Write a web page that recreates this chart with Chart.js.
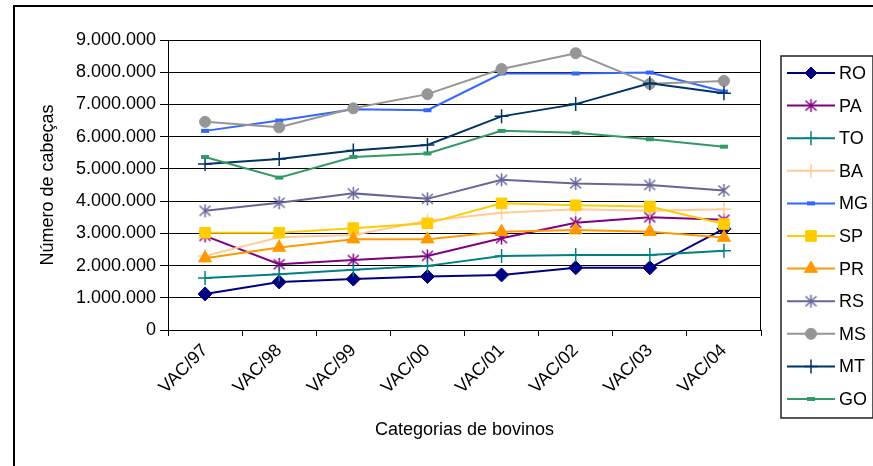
<!DOCTYPE html>
<html>
<head>
<meta charset="utf-8">
<script src="https://cdn.jsdelivr.net/npm/chart.js@4/dist/chart.umd.min.js"></script>
<style>
    body { margin: 0; background: #fff; }
    #wrap { width: 873px; height: 466px; }
</style>
</head>
<body>
<div id="wrap"><canvas id="chart" width="873" height="466"></canvas></div>
<script>
// categories and series (número de cabeças)
const categories = ['VAC/97', 'VAC/98', 'VAC/99', 'VAC/00', 'VAC/01', 'VAC/02', 'VAC/03', 'VAC/04'];
const seriesNames = ['RO', 'PA', 'TO', 'BA', 'MG', 'SP', 'PR', 'RS', 'MS', 'MT', 'GO'];

const RO = [1120000, 1490000, 1580000, 1660000, 1710000, 1930000, 1930000, 3140000];
const PA = [2920000, 2040000, 2170000, 2300000, 2850000, 3330000, 3500000, 3420000];
const TO = [1610000, 1730000, 1870000, 1990000, 2300000, 2330000, 2330000, 2460000];
const BA = [2300000, 2880000, 2950000, 3390000, 3640000, 3750000, 3700000, 3750000];
const MG = [6180000, 6500000, 6850000, 6820000, 7960000, 7960000, 7990000, 7400000];
const SP = [3020000, 3020000, 3160000, 3310000, 3930000, 3870000, 3830000, 3290000];
const PR = [2230000, 2560000, 2820000, 2820000, 3050000, 3100000, 3050000, 2870000];
const RS = [3700000, 3950000, 4240000, 4070000, 4660000, 4550000, 4500000, 4330000];
const MS = [6460000, 6290000, 6880000, 7320000, 8100000, 8590000, 7640000, 7730000];
const MT = [5150000, 5310000, 5570000, 5740000, 6630000, 7010000, 7660000, 7350000];
const GO = [5370000, 4730000, 5370000, 5480000, 6180000, 6120000, 5920000, 5690000];

const seriesData = [RO, PA, TO, BA, MG, SP, PR, RS, MS, MT, GO];
const colors = ['#000080', '#800080', '#008080', '#FFCC99', '#3366FF', '#FFCC00', '#FF9900', '#666699', '#969696', '#003366', '#339966'];

// excel-like asterisk marker (vertical + X)
function makeStar(color) {
    const c = document.createElement('canvas');
    c.width = 15; c.height = 15;
    const g = c.getContext('2d');
    g.strokeStyle = color;
    g.lineWidth = 1.5;
    g.beginPath();
    g.moveTo(7.5, 1); g.lineTo(7.5, 14);
    g.moveTo(2, 2.5); g.lineTo(13, 12.5);
    g.moveTo(13, 2.5); g.lineTo(2, 12.5);
    g.stroke();
    return c;
}

const markers = [
    { style: 'rectRot', radius: 7, width: 1 },
    { style: makeStar(colors[1]), radius: 7, width: 1 },
    { style: 'cross', radius: 7, width: 1.5 },
    { style: 'cross', radius: 7, width: 1.5 },
    { style: 'line', radius: 4, width: 4 },
    { style: 'rect', radius: 7.5, width: 1 },
    { style: 'triangle', radius: 7.5, width: 1 },
    { style: makeStar(colors[7]), radius: 7, width: 1 },
    { style: 'circle', radius: 5.5, width: 1 },
    { style: 'cross', radius: 7, width: 1.5 },
    { style: 'line', radius: 4, width: 4 }
];

const datasets = seriesNames.map((name, i) => ({
    label: name,
    data: seriesData[i],
    borderColor: colors[i],
    backgroundColor: colors[i],
    borderWidth: 2,
    tension: 0,
    pointStyle: markers[i].style,
    pointRadius: markers[i].radius,
    pointBorderWidth: markers[i].width,
    pointBorderColor: colors[i],
    pointBackgroundColor: colors[i],
    order: seriesNames.length - i
}));

function fmt(v) {
    return String(v).replace(/\B(?=(\d{3})+(?!\d))/g, '.');
}

const frame = {
    id: 'frame',
    beforeDraw(chart) {
        const ctx = chart.ctx;
        ctx.save();
        ctx.fillStyle = '#fff';
        ctx.fillRect(0, 0, chart.width, chart.height);
        ctx.strokeStyle = '#000';
        ctx.lineWidth = 2;
        ctx.strokeRect(14, 6, chart.width + 10, chart.height + 10);
        ctx.restore();
    },
    afterDraw(chart) {
        const ctx = chart.ctx;
        const a = chart.chartArea;
        ctx.save();
        ctx.strokeStyle = '#000';
        ctx.lineWidth = 1;
        ctx.strokeRect(a.left + 0.5, a.top + 0.5, a.right - a.left - 1, a.bottom - a.top);

        // legend box
        const lx = 781, ly = 56, lw = 92, lh = 362;
        ctx.lineWidth = 1.5;
        ctx.strokeStyle = '#222';
        ctx.strokeRect(lx, ly, lw, lh);
        ctx.font = '18px "Liberation Sans", Arial, sans-serif';
        ctx.textBaseline = 'middle';
        ctx.fillStyle = '#000';
        seriesNames.forEach((name, i) => {
            const y = 73 + i * 32.6;
            ctx.strokeStyle = colors[i];
            ctx.lineWidth = 2;
            ctx.beginPath();
            ctx.moveTo(787, y);
            ctx.lineTo(835, y);
            ctx.stroke();
            ctx.fillStyle = colors[i];
            ctx.lineWidth = markers[i].width;
            Chart.helpers.drawPoint(ctx, {
                pointStyle: markers[i].style,
                radius: markers[i].style === 'rectRot' ? 6 : markers[i].radius,
                borderWidth: markers[i].width,
                rotation: 0
            }, 811, y);
            ctx.fillStyle = '#000';
            ctx.fillText(name, 839, y + 1);
        });
        ctx.restore();
    }
};

Chart.defaults.font.family = '"Liberation Sans", Arial, sans-serif';
Chart.defaults.font.size = 18;
Chart.defaults.color = '#000';

new Chart(document.getElementById('chart'), {
    type: 'line',
    data: { labels: categories, datasets: datasets },
    options: {
        responsive: false,
        animation: false,
        layout: { padding: { left: 33, top: 40, right: 112, bottom: 21 } },
        plugins: { legend: { display: false }, tooltip: { enabled: false } },
        scales: {
            x: {
                offset: true,
                grid: { offset: true, drawOnChartArea: false, color: '#000', tickLength: 6 },
                border: { color: '#000', width: 1 },
                ticks: { minRotation: 45, maxRotation: 45, padding: 4 },
                title: { display: true, text: 'Categorias de bovinos', font: { size: 18 } },
                afterFit(s) { s.height = 115; }
            },
            y: {
                min: 0,
                max: 9000000,
                grid: { color: '#000', lineWidth: 1, tickLength: 8 },
                border: { color: '#000', width: 1 },
                ticks: { stepSize: 1000000, padding: 4, callback: v => fmt(v) },
                title: { display: true, text: 'Número de cabeças', font: { size: 18 } },
                afterFit(s) { s.width = 135; }
            }
        }
    },
    plugins: [frame]
});
</script>
</body>
</html>
